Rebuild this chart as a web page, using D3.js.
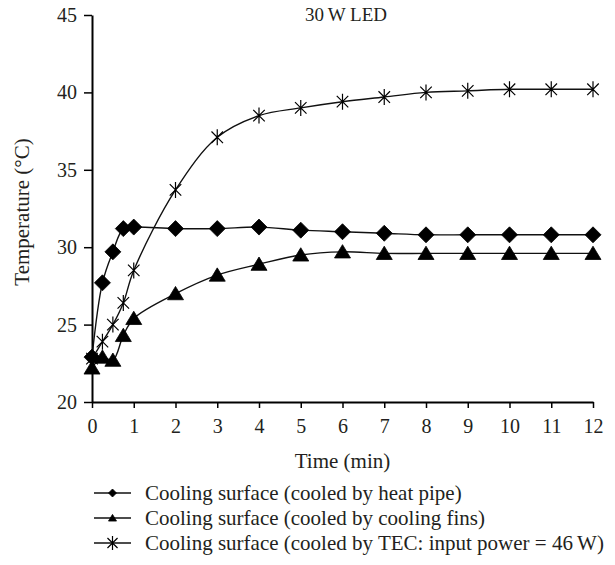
<!DOCTYPE html>
<html>
<head>
<meta charset="utf-8">
<script src="https://cdn.jsdelivr.net/npm/d3@7"></script>
<style>
	body { margin: 0; background: #fff; }
	svg { display: block; font-family: 'Liberation Serif', 'DejaVu Serif', serif; }
</style>
</head>
<body>
<div id="chart"></div>
<script>
const w = 615;
const h = 565;

// time in minutes
const times = [0, 0.25, 0.5, 0.75, 1, 2, 3, 4, 5, 6, 7, 8, 9, 10, 11, 12];
const heatPipe = [22.9, 27.7, 29.7, 31.2, 31.3, 31.2, 31.2, 31.3, 31.1, 31.0, 30.9, 30.8, 30.8, 30.8, 30.8, 30.8];
const fins = [22.2, 22.9, 22.7, 24.3, 25.4, 27.0, 28.2, 28.9, 29.5, 29.7, 29.6, 29.6, 29.6, 29.6, 29.6, 29.6];
const tec = [22.8, 23.9, 25.0, 26.4, 28.5, 33.7, 37.1, 38.5, 39.0, 39.4, 39.7, 40.0, 40.1, 40.2, 40.2, 40.2];

const xTicks = [0, 1, 2, 3, 4, 5, 6, 7, 8, 9, 10, 11, 12];
const yTicks = [20, 25, 30, 35, 40, 45];

const seriesNames = [
	'Cooling surface (cooled by heat pipe)',
	'Cooling surface (cooled by cooling fins)',
	'Cooling surface (cooled by TEC: input power = 46\u2009W)'
];
const seriesMarkers = ['diamond', 'triangle', 'star'];

const margin = { top: 15, right: 22, bottom: 163, left: 92 };
const ink = '#231f20';
const font = "'Liberation Serif', 'DejaVu Serif', serif";

const svg = d3
	.select('#chart')
	.append('svg')
	.attr('width', w)
	.attr('height', h)
	.attr('font-family', font);

const x = d3
	.scaleLinear()
	.domain([0, 12])
	.range([margin.left, w - margin.right]);

const y = d3
	.scaleLinear()
	.domain([20, 45])
	.range([h - margin.bottom, margin.top]);

// marker paths, r = half size
function markerPath(type, r) {
	if (type === 'diamond') {
		return `M0,${-r}L${r},0L0,${r}L${-r},0Z`;
	}
	if (type === 'triangle') {
		const hh = r * 0.9;
		return `M0,${-hh}L${r},${hh * 0.85}L${-r},${hh * 0.85}Z`;
	}
	// star: vertical line + X
	const d = r * 0.72;
	return `M0,${-r}L0,${r}M${-d},${-d}L${d},${d}M${-d},${d}L${d},${-d}`;
}

function drawMarker(g, type, r) {
	g.append('path')
		.attr('d', markerPath(type, r))
		.attr('fill', type === 'star' ? 'none' : '#000')
		.attr('stroke', '#000')
		.attr('stroke-width', type === 'star' ? 1.2 : 0.8);
}

// axes
const xAxis = d3.axisBottom(x).tickValues(xTicks).tickSize(6).tickSizeOuter(0).tickPadding(11);
const yAxis = d3.axisLeft(y).tickValues(yTicks).tickSize(8).tickSizeOuter(0).tickPadding(7);

const gx = svg
	.append('g')
	.attr('transform', `translate(0,${h - margin.bottom})`)
	.call(xAxis);

const gy = svg
	.append('g')
	.attr('transform', `translate(${margin.left},0)`)
	.call(yAxis);

[gx, gy].forEach(g => {
	g.attr('font-family', font);
	g.select('.domain').attr('stroke-width', 2);
	g.selectAll('.tick line').attr('stroke-width', 1.5);
	g.selectAll('.tick text')
		.attr('font-size', 20)
		.attr('fill', ink);
});

// lines
const line = d3
	.line()
	.x((d, i) => x(times[i]))
	.y(d => y(d))
	.curve(d3.curveCatmullRom.alpha(0.5));

const allSeries = [heatPipe, fins, tec];

allSeries.forEach(vals => {
	svg.append('path')
		.datum(vals)
		.attr('fill', 'none')
		.attr('stroke', '#111')
		.attr('stroke-width', 1.4)
		.attr('d', line);
});

allSeries.forEach((vals, k) => {
	const type = seriesMarkers[k];
	svg.selectAll(null)
		.data(vals)
		.enter()
		.append('g')
		.attr('transform', (d, i) => `translate(${x(times[i])},${y(d)})`)
		.each(function () {
			drawMarker(d3.select(this), type, 8);
		});
});

// title
svg.append('text')
	.attr('x', 346)
	.attr('y', 21)
	.attr('text-anchor', 'middle')
	.attr('font-size', 19)
	.attr('fill', ink)
	.text('30\u2009W LED');

// axis titles
svg.append('text')
	.attr('x', (margin.left + w - margin.right) / 2)
	.attr('y', 468)
	.attr('text-anchor', 'middle')
	.attr('font-size', 21)
	.attr('fill', ink)
	.text('Time (min)');

svg.append('text')
	.attr('transform', `translate(29,212) rotate(-90)`)
	.attr('text-anchor', 'middle')
	.attr('font-size', 21)
	.attr('fill', ink)
	.text('Temperature (\u00b0C)');

// legend
const legend = svg.append('g');
const legendX = 94;
const legendY = 493;
const legendStep = 25;

seriesNames.forEach((name, i) => {
	const g = legend.append('g').attr('transform', `translate(${legendX},${legendY + i * legendStep})`);
	g.append('line')
		.attr('x1', 0)
		.attr('x2', 37)
		.attr('stroke', '#111')
		.attr('stroke-width', 1.4);
	const mg = g.append('g').attr('transform', 'translate(18.5,0)');
	const type = seriesMarkers[i];
	drawMarker(mg, type, type === 'star' ? 7 : 4);
	g.append('text')
		.attr('x', 51)
		.attr('y', 7)
		.attr('font-size', 21)
		.attr('fill', ink)
		.text(name);
});
</script>
</body>
</html>
